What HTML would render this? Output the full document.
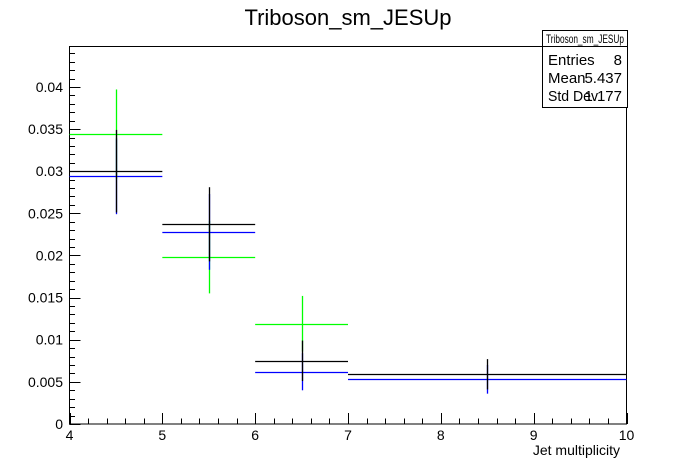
<!DOCTYPE html>
<html><head><meta charset="utf-8">
<style>
body{margin:0;background:#fff;}
svg{display:block;font-family:"Liberation Sans",sans-serif;}
</style></head>
<body>
<svg id="c" width="696" height="472" viewBox="0 0 696 472">
<rect width="696" height="472" fill="#fff"/>
<text x="348" y="25" font-size="22" text-anchor="middle">Triboson_sm_JESUp</text>
<rect x="69.5" y="46.5" width="557" height="377.5" fill="none" stroke="#000" stroke-width="1"/>
<g id="axes"></g>
<g id="series"></g>
<text x="620" y="455" font-size="14" text-anchor="end">Jet multiplicity</text>
<g>
<rect x="542.5" y="30.5" width="85" height="77" fill="#fff" stroke="#000"/>
<line x1="542.5" y1="46.5" x2="627.5" y2="46.5" stroke="#000"/>
<text x="546" y="43" font-size="12" textLength="78" lengthAdjust="spacingAndGlyphs">Triboson_sm_JESUp</text>
<text x="548" y="65" font-size="15">Entries</text><text x="622" y="65" font-size="15" text-anchor="end">8</text>
<text x="548" y="83" font-size="15">Mean</text><text x="622" y="83" font-size="15" text-anchor="end">5.437</text>
<text x="548" y="101" font-size="15" textLength="50" lengthAdjust="spacingAndGlyphs">Std Dev</text><text x="622" y="101" font-size="15" text-anchor="end">1.177</text>
</g>
</svg>
<script>
const binEdges=[4,5,6,7,10];
const greenVals=[0.0344,0.0198,0.0119];
const greenErrs=[0.0053,0.0043,0.0033];
const blueVals=[0.0294,0.0228,0.0062,0.0053];
const blueErrs=[0.0045,0.0045,0.0022,0.0017];
const blackVals=[0.0300,0.0237,0.0075,0.0059];
const blackErrs=[0.0049,0.0044,0.0024,0.0018];
const xTicks=[4,5,6,7,8,9,10];
const yTicks=[0,0.005,0.01,0.015,0.02,0.025,0.03,0.035,0.04];
const yTickLabels=["0","0.005","0.01","0.015","0.02","0.025","0.03","0.035","0.04"];

const X0=69.5,X1=626.5,Y0=424,Y1=46.5,XMIN=4,XMAX=10,YMAX=0.0448;
const sx=v=>X0+(v-XMIN)/(XMAX-XMIN)*(X1-X0);
const sy=v=>Y0-v/YMAX*(Y0-Y1);
const NS="http://www.w3.org/2000/svg";
function mk(parent,tag,attrs){const e=document.createElementNS(NS,tag);for(const k in attrs)e.setAttribute(k,attrs[k]);parent.appendChild(e);return e;}
const ax=document.getElementById('axes');
for(let i=0;i<=44;i++){const v=i*0.001;const y=Math.round(sy(v))+0.5;const major=i%5===0;
 const t=mk(ax,'line',{x1:X0,x2:X0+(major?11:5.5),y1:y,y2:y,stroke:'#000'});
 
 }
yTicks.forEach((v,i)=>{const t=mk(ax,'text',{x:63,y:sy(v)+5,'font-size':14,'text-anchor':'end'});t.textContent=yTickLabels[i];
 
 });
for(let i=0;i<=30;i++){const v=4+i*0.2;const x=Math.round(sx(v))+0.5;const major=i%5===0;
 const t=mk(ax,'line',{x1:x,x2:x,y1:Y0,y2:Y0-(major?11:5.5),stroke:'#000'});
 
 }
xTicks.forEach(v=>{const t=mk(ax,'text',{x:sx(v),y:440,'font-size':14,'text-anchor':'middle'});t.textContent=String(v);
 
 });
const sg=document.getElementById('series');
function drawSeries(vals,errs,color,name){
 const g=mk(sg,'g',{});
 
 
 vals.forEach((v,i)=>{const a=sx(binEdges[i]),b=sx(binEdges[i+1]),c=Math.round(sx((binEdges[i]+binEdges[i+1])/2))+0.5;const y=Math.round(sy(v))+0.5;
  const h=mk(g,'line',{x1:a,x2:b,y1:y,y2:y,stroke:color,'stroke-width':1.3});
  
  
  const e=mk(g,'line',{x1:c,x2:c,y1:sy(v-errs[i]),y2:sy(v+errs[i]),stroke:color,'stroke-width':1.3});
  
  });
}
drawSeries(greenVals,greenErrs,'#00ff00','green-series');
drawSeries(blueVals,blueErrs,'#0000ff','blue-series');
drawSeries(blackVals,blackErrs,'#000000','black-series');
</script>
</body></html>
